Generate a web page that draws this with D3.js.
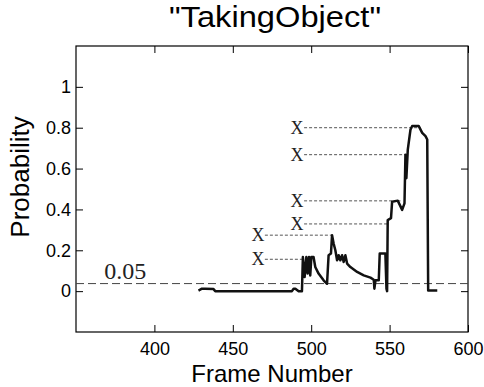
<!DOCTYPE html>
<html>
<head>
<meta charset="utf-8">
<script src="https://cdn.jsdelivr.net/npm/d3@7"></script>
<style>
body { margin: 0; background: #fff; }
svg { display: block; }
</style>
</head>
<body>
<div></div>
<script>
var frames = [428.1, 430.3, 432.4, 437.7, 438.8, 487.7, 488.8, 489.9, 492.0, 494.1,
	494.7, 495.8, 496.9, 497.7, 498.6, 499.4, 500.1, 501.5, 502.6, 504.7,
	507.9, 510.1, 511.1, 512.6, 513.3, 514.3, 515.4, 516.5, 517.5, 518.6,
	519.7, 520.7, 521.8, 522.9, 525.0, 529.3, 533.5, 537.8, 539.9, 540.3,
	541.0, 543.1, 543.7, 547.3, 548.0, 548.4, 548.8, 550.9, 551.6, 555.2,
	558.0, 559.5, 560.1, 560.7, 561.6, 563.3, 564.4, 568.6, 570.8, 572.9,
	574.0, 574.6, 580.4];
var probs = [0.003, 0.012, 0.012, 0.010, 0.0, 0.0, 0.012, 0.012, 0.0, 0.0,
	0.167, 0.069, 0.167, 0.086, 0.167, 0.077, 0.167, 0.167, 0.118, 0.086,
	0.053, 0.036, 0.176, 0.184, 0.274, 0.233, 0.2, 0.151, 0.176, 0.151,
	0.176, 0.143, 0.176, 0.135, 0.118, 0.094, 0.077, 0.066, 0.056, 0.012,
	0.053, 0.053, 0.184, 0.184, 0.012, 0.0, 0.348, 0.357, 0.438, 0.443,
	0.398, 0.43, 0.668, 0.553, 0.693, 0.79, 0.808, 0.808, 0.775, 0.759,
	0.742, 0.003, 0.003];

// the "X" annotations: label position, level, where the dotted line ends
var markLabelFrame = [466, 466, 491, 491, 491, 491];
var markLevel = [0.156, 0.274, 0.329, 0.442, 0.668, 0.8];
var markEndFrame = [494.7, 512.6, 549.5, 556.9, 560.1, 569.7];

var threshold = 0.037,
	thresholdLabel = "0.05";

var xTicks = [400, 450, 500, 550, 600],
	yTicks = [0, 0.2, 0.4, 0.6, 0.8, 1];

var width = 484, height = 387,
	margin = {left: 76, right: 16, top: 46, bottom: 55};

var svg = d3.select("div").append("svg")
	.attr("width", width)
	.attr("height", height);

var x = d3.scaleLinear().domain([350, 600]).range([margin.left, width - margin.right]);
var y = d3.scaleLinear().domain([-0.2, 1.2]).range([height - margin.bottom, margin.top]);

var font = "'Liberation Sans', Arial, sans-serif";
var serif = "'Liberation Serif', 'Times New Roman', serif";

// box
svg.append("rect")
	.attr("x", x(350)).attr("y", y(1.2))
	.attr("width", x(600) - x(350)).attr("height", y(-0.2) - y(1.2))
	.attr("fill", "none").attr("stroke", "#000").attr("stroke-width", 1.2);

// axes with inward ticks
var axBottom = svg.append("g")
	.attr("transform", "translate(0," + y(-0.2) + ")")
	.call(d3.axisBottom(x).tickValues(xTicks).tickSizeInner(-7).tickSizeOuter(0).tickPadding(10).tickFormat(d3.format("d")));
var axTop = svg.append("g")
	.attr("transform", "translate(0," + y(1.2) + ")")
	.call(d3.axisTop(x).tickValues(xTicks).tickSizeInner(-7).tickSizeOuter(0).tickFormat(""));
var axLeft = svg.append("g")
	.attr("transform", "translate(" + x(350) + ",0)")
	.call(d3.axisLeft(y).tickValues(yTicks).tickSizeInner(-7).tickSizeOuter(0).tickPadding(5).tickFormat(d => d === 0 || d === 1 ? d : d3.format(".1f")(d)));
var axRight = svg.append("g")
	.attr("transform", "translate(" + x(600) + ",0)")
	.call(d3.axisRight(y).tickValues(yTicks).tickSizeInner(-7).tickSizeOuter(0).tickFormat(""));

[axBottom, axTop, axLeft, axRight].forEach(function (g) {
	g.select(".domain").remove();
	g.selectAll("line").attr("stroke", "#000");
	g.selectAll("text").attr("font-family", font).attr("font-size", 18).attr("fill", "#000");
});

// threshold
svg.append("line")
	.attr("x1", x(350)).attr("x2", x(600))
	.attr("y1", y(threshold)).attr("y2", y(threshold))
	.attr("stroke", "#444").attr("stroke-width", 1)
	.attr("stroke-dasharray", "8,4");
svg.append("text")
	.attr("x", x(368)).attr("y", y(threshold) - 5)
	.attr("font-family", serif).attr("font-size", 24)
	.attr("fill", "#222")
	.text(thresholdLabel);

// annotations
markLevel.forEach(function (v, i) {
	svg.append("line")
		.attr("x1", x(markLabelFrame[i]) + 7).attr("x2", x(markEndFrame[i]))
		.attr("y1", y(v)).attr("y2", y(v))
		.attr("stroke", "#555").attr("stroke-width", 1)
		.attr("stroke-dasharray", "3,2");
	svg.append("text")
		.attr("x", x(markLabelFrame[i])).attr("y", y(v) + 6)
		.attr("text-anchor", "middle")
		.attr("font-family", serif).attr("font-size", 18)
		.attr("fill", "#222")
		.text("X");
});

// probability curve
var line = d3.line().x((d, i) => x(frames[i])).y(d => y(d));
svg.append("path")
	.attr("d", line(probs))
	.attr("fill", "none").attr("stroke", "#111")
	.attr("stroke-width", 2.5).attr("stroke-linejoin", "round");

// titles
svg.append("text")
	.attr("x", 275).attr("y", 27)
	.attr("text-anchor", "middle")
	.attr("font-family", font).attr("font-size", 29)
	.attr("textLength", 212).attr("lengthAdjust", "spacingAndGlyphs")
	.text("\"TakingObject\"");
svg.append("text")
	.attr("x", 272).attr("y", 382)
	.attr("text-anchor", "middle")
	.attr("font-family", font).attr("font-size", 24)
	.text("Frame Number");
svg.append("text")
	.attr("transform", "translate(29,177) rotate(-90)")
	.attr("text-anchor", "middle")
	.attr("font-family", font).attr("font-size", 26)
	.text("Probability");
</script>
</body>
</html>
